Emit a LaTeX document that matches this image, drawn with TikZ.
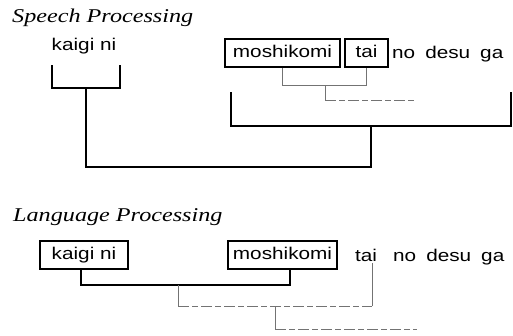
\documentclass[tikz,border=0pt]{standalone}
\usepackage{fontspec}
\setmainfont{Liberation Serif}
\newfontfamily\labfont[FakeStretch=1.22]{Liberation Sans}
\newfontfamily\ttlfont[FakeStretch=1.24]{Liberation Serif}
\begin{document}
\begin{tikzpicture}[x=1pt,y=-1pt,
  title/.style={anchor=base west,inner sep=0pt,font=\ttlfont\itshape\fontsize{19.5}{22}\selectfont},
  word/.style={anchor=base,inner sep=0pt,font=\labfont\fontsize{17}{20}\selectfont},
  wbox/.style={draw,line width=2.3pt,inner sep=0pt,font=\labfont\fontsize{17}{20}\selectfont,
    text height=12.5pt,text depth=3.5pt,minimum height=28pt},
  thick link/.style={line width=2.3pt},
  thin link/.style={line width=0.8pt,draw=black!55},
  broken/.style={line width=0.8pt,draw=black!55,dash pattern=on 11pt off 3pt on 6pt off 3pt}]
\useasboundingbox (0,0) rectangle (513,335);
% ---------- Speech Processing ----------
\node[title] (t1) at (12,22) {Speech Processing};
\node[word] (k1) at (84,50) {kaigi ni};
\node[wbox,minimum width=115pt] (m1) at (282.5,53) {moshikomi};
\node[wbox,minimum width=43pt] (ta1) at (366.5,53) {tai};
\node[word,anchor=base west] (n1) at (392,58) {no\hspace{10pt}desu\hspace{10pt}ga};
% coordinates
\coordinate (kL) at (52,65);
\coordinate (kR) at (120,65);
\coordinate (kS) at (86,88);
\coordinate (bL) at (231,92);
\coordinate (bR) at (511,92);
\coordinate (bS) at (371,126);
\coordinate (bot) at (0,167);
\coordinate (sS) at (325,85);
\coordinate (sE) at (414,100);
% thick brackets
\draw[thick link] (kL) -- (kL |- kS) -- (kR |- kS) -- (kR);
\draw[thick link] (bL) -- (bL |- bS) -- (bR |- bS) -- (bR);
\draw[thick link] (kS) -- (kS |- bot) -- (bS |- bot) -- (bS);
% thin sub-bracket
\draw[thin link] (m1.south) -- (m1.south |- sS) -- (ta1.south |- sS) -- (ta1.south);
\draw[thin link] (sS) -- (sS |- sE);
\draw[broken] (sS |- sE) -- (sE);
% ---------- Language Processing ----------
\node[title] (t2) at (13,221) {Language Processing};
\node[wbox,minimum width=88pt] (k2) at (84,255) {kaigi ni};
\node[wbox,minimum width=109pt] (m2) at (282.5,255) {moshikomi};
\node[word] (ta2) at (366,261) {tai};
\node[word,anchor=base west] (n2) at (393,261) {no\hspace{10pt}desu\hspace{10pt}ga};
\coordinate (k2s) at (81,269);
\coordinate (m2s) at (290,269);
\coordinate (lb) at (178,285);
\coordinate (tt) at (372,263);
\coordinate (db) at (275,306);
\coordinate (de) at (417,329);
\draw[thick link] (k2s) -- (k2s |- lb) -- (m2s |- lb) -- (m2s);
\draw[thin link] (lb) -- (lb |- db);
\draw[broken] (lb |- db) -- (tt |- db);
\draw[thin link] (tt |- db) -- (tt);
\draw[thin link] (db) -- (db |- de);
\draw[broken] (db |- de) -- (de);
\end{tikzpicture}
\end{document}
